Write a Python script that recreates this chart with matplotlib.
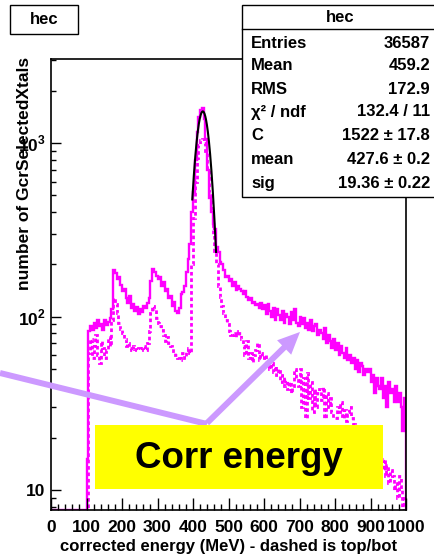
import numpy as np
import matplotlib.pyplot as plt
from matplotlib.patches import Rectangle, FancyArrowPatch
from matplotlib.lines import Line2D

plt.rcParams['font.family'] = ['Liberation Sans', 'DejaVu Sans']
plt.rcParams['font.weight'] = 'bold'
plt.rcParams['mathtext.fontset'] = 'custom'
plt.rcParams['mathtext.rm'] = 'Liberation Sans:bold'
plt.rcParams['mathtext.bf'] = 'Liberation Sans:bold'

# histogram: 5 MeV bins from 0 to 1000, first 20 bins empty
bin_width = 5
e_min, e_max = 0, 1000

# all crystals (solid), bins from 100 MeV
solid_vals = [
    15, 82, 88, 84, 92, 86, 95, 88, 90, 84,
    96, 89, 93, 98, 110, 185, 178, 165, 168, 152,
    140, 145, 128, 120, 132, 112, 118, 108, 114, 104,
    110, 106, 115, 112, 120, 128, 160, 187, 180, 172,
    165, 168, 150, 158, 140, 145, 128, 132, 115, 122,
    108, 105, 112, 135, 138, 150, 180, 215, 262, 400,
    520, 800, 1150, 1420, 1560, 1600, 1380, 1050, 700, 480,
    400, 340, 320, 250, 235, 205, 200, 185, 168, 172,
    160, 165, 150, 158, 142, 150, 145, 140, 135, 140,
    130, 125, 128, 120, 122, 116, 118, 112, 120, 110,
    116, 104, 118, 108, 100, 112, 96, 110, 102, 95,
    108, 92, 104, 100, 90, 106, 96, 110, 92, 88,
    100, 90, 98, 86, 92, 84, 96, 82, 88, 90,
    78, 84, 80, 74, 86, 70, 78, 72, 66, 74,
    64, 70, 60, 68, 62, 58, 66, 56, 60, 54,
    58, 50, 56, 48, 54, 52, 46, 50, 48, 50,
    42, 46, 36, 44, 40, 38, 44, 34, 40, 30,
    42, 36, 38, 32, 40, 32, 36, 30, 22, 34,
]

# top/bot crystals (dashed), bins from 100 MeV
dashed_vals = [
    0, 62, 74, 58, 68, 78, 60, 54, 72, 66,
    58, 64, 76, 68, 95, 128, 118, 105, 92, 85,
    80, 74, 68, 70, 66, 64, 68, 65, 64, 66,
    64, 66, 68, 64, 70, 82, 105, 115, 110, 98,
    92, 88, 84, 78, 72, 76, 70, 68, 66, 62,
    60, 58, 56, 60, 62, 58, 64, 66, 62, 200,
    370, 600, 820, 980, 1040, 1060, 1000, 900, 700, 520,
    400, 300, 240, 200, 150, 130, 115, 105, 96, 90,
    82, 78, 80, 76, 82, 78, 80, 74, 68, 60,
    72, 58, 62, 55, 60, 64, 70, 56, 62, 58,
    60, 52, 56, 50, 54, 48, 52, 46, 50, 42,
    46, 40, 43, 38, 42, 36, 40, 50, 44, 40,
    50, 30, 44, 26, 47, 34, 42, 28, 38, 30,
    36, 38, 33, 39, 26, 36, 30, 34, 28, 26,
    26, 30, 28, 32, 26, 29, 25, 28, 30, 26,
    24, 22, 20, 23, 19, 21, 18, 20, 17, 19,
    16, 18, 15, 17, 14, 16, 13, 15, 12, 14,
    11, 13, 12, 10, 11, 9, 12, 10, 0, 9,
]

# gaussian fit results
fit_C, fit_mean, fit_sig = 1522, 427.6, 19.36
fit_lo, fit_hi = 398, 465

stats_labels = ['Entries', 'Mean', 'RMS', 'χ² / ndf', 'C', 'mean', 'sig']
stats_values = ['36587', '459.2', '172.9', '132.4 / 11', '1522 ± 17.8', '427.6 ± 0.2', '19.36 ± 0.22']

W, H = 434, 559
ymin, ymax = 7.67, 3050
magenta = '#ff00ff'
lavender = '#cc99ff'
fs = 12

fig = plt.figure(figsize=(W / 100, H / 100), dpi=100)
ax = fig.add_axes([51 / W, 1 - 510 / H, (406 - 51) / W, (510 - 59) / H])

edges = np.arange(e_min, e_max + bin_width, bin_width)
n_empty = len(edges) - 1 - len(solid_vals)
solid = np.concatenate([np.zeros(n_empty), solid_vals])
dashed = np.concatenate([np.zeros(n_empty), dashed_vals])

ax.stairs(np.maximum(solid, ymin), edges, color=magenta, lw=1.7)
ax.stairs(np.maximum(dashed, ymin), edges, color=magenta, lw=2.0, linestyle=(0, (1.3, 1.0)))

xf = np.linspace(fit_lo, fit_hi, 200)
ax.plot(xf, fit_C * np.exp(-0.5 * ((xf - fit_mean) / fit_sig) ** 2), color='black', lw=1.5)

ax.set_yscale('log')
ax.set_xlim(e_min, e_max)
ax.set_ylim(ymin, ymax)
ax.set_xticks(np.arange(0, 1001, 100))
ax.set_xticks(np.arange(0, 1001, 20), minor=True)
ax.set_xticklabels([str(v) for v in range(0, 1001, 100)], fontsize=12.5, fontweight='bold')
ax.set_yticks([10, 100, 1000])
ax.set_yticklabels(['10', r'$10^{2}$', r'$10^{3}$'], fontsize=12.5)
ax.tick_params(which='both', direction='in', right=False, top=False, width=1)
ax.tick_params(which='major', axis='y', length=7.5, pad=4)
ax.tick_params(which='minor', axis='y', length=3.8)
ax.tick_params(which='major', axis='x', length=8.5, pad=7)
ax.tick_params(which='minor', axis='x', length=4.3)
for s in ax.spines.values():
    s.set_linewidth(1.2)

ax.set_xlabel('corrected energy (MeV) - dashed is top/bot', fontsize=fs, fontweight='bold', labelpad=3)
fig.text(25 / W, 1 - 57 / H, 'number of GcrSelectedXtals', rotation=90, ha='center', va='top',
         fontsize=12.5, fontweight='bold')


def fp(x, y):
    return (x / W, 1 - y / H)


# title box
fig.patches.append(Rectangle(fp(10, 34), 68 / W, 29 / H, transform=fig.transFigure,
                             facecolor='white', edgecolor='black', lw=1))
fig.text(*fp(44, 20), 'hec', ha='center', va='center', fontsize=fs, fontweight='bold')

# stats box
fig.patches.append(Rectangle(fp(242, 197), 200 / W, 192 / H, transform=fig.transFigure,
                             facecolor='white', edgecolor='black', lw=1, zorder=5))
fig.add_artist(Line2D([242 / W, 1], [1 - 29 / H, 1 - 29 / H], transform=fig.transFigure,
                      color='black', lw=1, zorder=6))
fig.text(*fp(340, 18), 'hec', ha='center', va='center', fontsize=fs, fontweight='bold', zorder=6)
rows_y = [43, 66, 89, 112, 136, 160, 184]
for lab, val, ry in zip(stats_labels, stats_values, rows_y):
    fig.text(*fp(251, ry), lab, ha='left', va='center', fontsize=fs, fontweight='bold', zorder=6)
    fig.text(*fp(430, ry), val, ha='right', va='center', fontsize=fs, fontweight='bold', zorder=6)

# arrows
fig.add_artist(Line2D([0, 207 / W], [1 - 373 / H, 1 - 424 / H], transform=fig.transFigure,
                      color=lavender, lw=4.3, solid_capstyle='butt', zorder=7))
fig.add_artist(FancyArrowPatch(fp(205, 425), fp(302, 330), transform=fig.transFigure,
                               arrowstyle='simple,tail_width=0.43,head_width=1.45,head_length=1.6',
                               mutation_scale=10, color=lavender, lw=0, zorder=7))

# yellow label box
fig.patches.append(Rectangle(fp(95, 489), 288 / W, 64 / H, transform=fig.transFigure,
                             facecolor='#ffff00', edgecolor='none', zorder=8))
fig.text(*fp(239, 458), 'Corr energy', ha='center', va='center', fontsize=26.5,
         fontweight='bold', color='black', zorder=9)

fig.savefig('out.png', dpi=100)
